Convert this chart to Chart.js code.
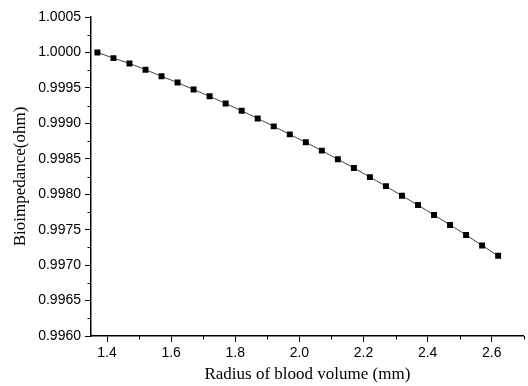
<!DOCTYPE html>
<html>
<head>
<meta charset="utf-8">
<script src="https://cdn.jsdelivr.net/npm/chart.js@4/dist/chart.umd.min.js"></script>
<style>
  html, body { margin: 0; padding: 0; background: #fff; }
  #wrap { width: 528px; height: 386px; }
</style>
</head>
<body>
<div id="wrap"><canvas id="grafica"></canvas></div>
<script>
// Radio del volumen de sangre (mm) y bioimpedancia
const radio = [1.37, 1.42, 1.47, 1.52, 1.57, 1.62, 1.67, 1.72, 1.77, 1.82, 1.87, 1.92, 1.97,
               2.02, 2.07, 2.12, 2.17, 2.22, 2.27, 2.32, 2.37, 2.42, 2.47, 2.52, 2.57, 2.62];
const bioimpedancia = [1.00000, 0.99992, 0.999845, 0.999757, 0.999663, 0.999575, 0.999476,
                       0.999382, 0.99928, 0.999177, 0.999069, 0.998957, 0.998844, 0.998732,
                       0.998615, 0.998493, 0.998371, 0.998241, 0.998114, 0.997978, 0.997847,
                       0.997707, 0.997567, 0.997426, 0.997276, 0.997131];

// Marcas de los ejes
const ticksX = [1.4, 1.6, 1.8, 2.0, 2.2, 2.4, 2.6];
const ticksY = [0.9960, 0.9965, 0.9970, 0.9975, 0.9980, 0.9985, 0.9990, 0.9995, 1.0000, 1.0005];
const menoresX = [1.5, 1.7, 1.9, 2.1, 2.3, 2.5, 2.7];
const menoresY = [0.99625, 0.99675, 0.99725, 0.99775, 0.99825, 0.99875, 0.99925, 0.99975, 1.00025];

// Plugin para dibujar las marcas menores, mas cortas que las mayores
const marcasMenores = {
    id: 'marcasMenores',
    afterDraw(chart) {
        const ctx = chart.ctx;
        const sx = chart.scales.x, sy = chart.scales.y;
        ctx.save();
        ctx.strokeStyle = '#000';
        ctx.lineWidth = 1;
        ctx.beginPath();
        menoresX.forEach(v => {
            const px = Math.round(sx.getPixelForValue(v)) + 0.5;
            ctx.moveTo(px, sx.top);
            ctx.lineTo(px, sx.top + 3.5);
        });
        menoresY.forEach(v => {
            const py = Math.round(sy.getPixelForValue(v)) + 0.5;
            ctx.moveTo(sy.right, py);
            ctx.lineTo(sy.right - 3.5, py);
        });
        ctx.stroke();
        ctx.restore();
    }
};

const datos = radio.map((r, i) => ({ x: r, y: bioimpedancia[i] }));

new Chart(document.getElementById('grafica'), {
    type: 'line',
    data: {
        datasets: [{
            data: datos,
            borderColor: '#444',
            borderWidth: 1,
            pointStyle: 'rect',
            pointRadius: 4.2,
            pointBackgroundColor: '#000',
            pointBorderColor: '#000',
            pointBorderWidth: 0,
            tension: 0
        }]
    },
    options: {
        responsive: true,
        maintainAspectRatio: false,
        animation: false,
        layout: { padding: { top: 17, right: 1, left: 0, bottom: 0 } },
        plugins: { legend: { display: false }, tooltip: { enabled: false } },
        scales: {
            x: {
                type: 'linear',
                min: 1.35,
                max: 2.7,
                afterBuildTicks: s => { s.ticks = ticksX.map(v => ({ value: v })); },
                afterFit: s => { s.height = 50; },
                border: { color: '#000', width: 1.5 },
                grid: { drawOnChartArea: false, tickLength: 6, tickColor: '#000' },
                ticks: {
                    color: '#000',
                    padding: 3,
                    maxRotation: 0,
                    font: { family: 'Liberation Sans', size: 14 },
                    callback: v => v.toFixed(1)
                },
                title: {
                    display: true,
                    text: 'Radius of blood volume (mm)',
                    color: '#000',
                    font: { family: 'Liberation Serif', size: 17 },
                    padding: { top: 0, bottom: 1 }
                }
            },
            y: {
                type: 'linear',
                min: 0.9960,
                max: 1.0005,
                afterBuildTicks: s => { s.ticks = ticksY.map(v => ({ value: v })); },
                afterFit: s => { s.width = 91; },
                border: { color: '#000', width: 1.5 },
                grid: { drawOnChartArea: false, tickLength: 6, tickColor: '#000' },
                ticks: {
                    color: '#000',
                    padding: 4,
                    font: { family: 'Liberation Sans', size: 14 },
                    callback: v => v.toFixed(4)
                },
                title: {
                    display: true,
                    text: 'Bioimpedance(ohm)',
                    color: '#000',
                    font: { family: 'Liberation Serif', size: 17 },
                    padding: { top: 10, bottom: 0 }
                }
            }
        }
    },
    plugins: [marcasMenores]
});
</script>
</body>
</html>
